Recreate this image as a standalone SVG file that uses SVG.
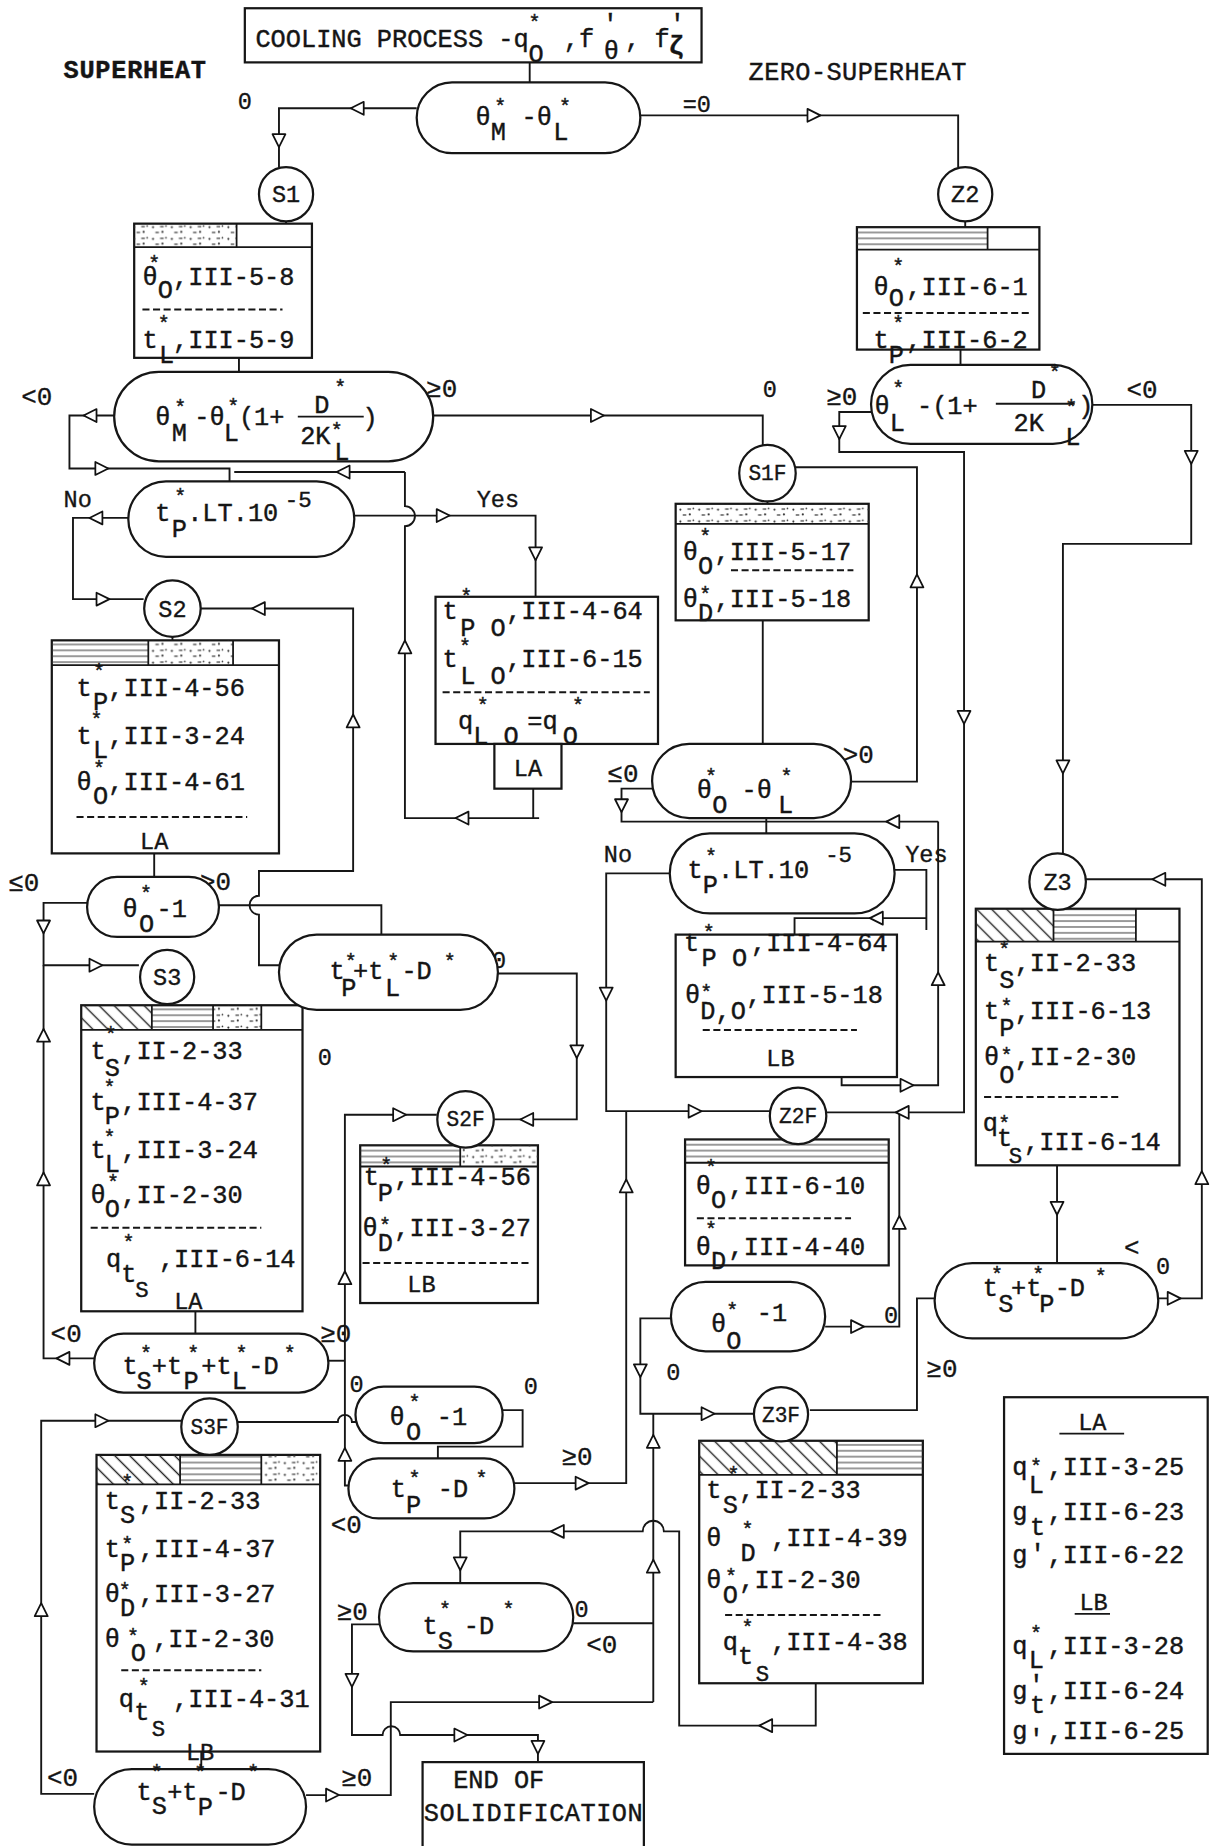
<svg xmlns="http://www.w3.org/2000/svg" width="1223" height="1846" viewBox="0 0 1223 1846">
<style>
.t{font-family:"Liberation Mono","DejaVu Sans Mono",monospace;font-size:21.5px;fill:#151515;stroke:#151515;stroke-width:0.35}
.st{font-size:17px}
.sm{font-size:19px}
.lb{font-family:"Liberation Mono","DejaVu Sans Mono",monospace;font-size:22px;fill:#151515;stroke:#151515;stroke-width:0.3}
.n{font-family:"Liberation Mono","DejaVu Sans Mono",monospace;font-size:20px;fill:#151515;stroke:#151515;stroke-width:0.3}
.c{font-family:"Liberation Mono","DejaVu Sans Mono",monospace;font-size:20px;fill:#151515;stroke:#151515;stroke-width:0.3;text-anchor:middle}
.c3{font-size:18px}
.ln{fill:none;stroke:#161616;stroke-width:1.6}
.bx{fill:#fff;stroke:#161616;stroke-width:1.9}
.ci{fill:#fff;stroke:#161616;stroke-width:1.9}
.ds{fill:none;stroke:#161616;stroke-width:1.7;stroke-dasharray:6 3}
.dv{fill:none;stroke:#161616;stroke-width:1.5}
</style>
<defs>
<pattern id="hatch" patternUnits="userSpaceOnUse" width="9" height="9" patternTransform="rotate(-45)"><line x1="4.5" y1="0" x2="4.5" y2="9" stroke="#222" stroke-width="1.2"/></pattern>
<pattern id="strat" patternUnits="userSpaceOnUse" width="40" height="5"><line x1="0" y1="2.5" x2="40" y2="2.5" stroke="#333" stroke-width="0.9"/></pattern>
<pattern id="dots" patternUnits="userSpaceOnUse" width="16" height="10"><g fill="#333"><circle cx="2" cy="3" r="0.9"/><circle cx="10" cy="7" r="0.9"/><circle cx="13" cy="2" r="0.7"/><rect x="4" y="7" width="3" height="1"/><rect x="8" y="2" width="3" height="1"/></g></pattern>
<path id="ar" d="M6,0 L-5,-5.5 L-5,5.5 Z" fill="#fff" stroke="#111" stroke-width="1.5" stroke-linejoin="round"/>
</defs>
<rect width="1223" height="1846" fill="#fff"/>
<g transform="scale(1.1771)">
<g id="connectors">
<path class="ln" d="M450,53 V70"/>
<path class="ln" d="M354,92 H237 V142"/>
<path class="ln" d="M544,98 H814 V142"/>
<path class="ln" d="M243,188 V190 M203,304 V316 M820,188 V193 M816,297 V310"/>
<path class="ln" d="M97,353 H59 V398 H195 V409"/>
<path class="ln" d="M344,401 H199"/>
<path class="ln" d="M344,401 V430 A8.5,8.5 0 0 1 344,447 V695 H458 M453,670 V695"/>
<path class="ln" d="M368,353 H648 V378"/>
<path class="ln" d="M109,440 H62 V509 H122"/>
<path class="ln" d="M301,438 H455 V507"/>
<path class="ln" d="M237,820 H220 V777 A8,8 0 0 1 220,761 V740 H300 V517 H170"/>
<path class="ln" d="M146.5,541 V544 M131,725 V745 M142,853 V854 M166,1114 V1133 M652,426 V428"/>
<path class="ln" d="M186,769 H324 V794"/>
<path class="ln" d="M74,767 H37 V820 H118"/>
<path class="ln" d="M80,1154 H37 V820"/>
<path class="ln" d="M423,827 H490 V951 H420"/>
<path class="ln" d="M297,1262 H293 V947 H371"/>
<path class="ln" d="M279,1156 H293"/>
<path class="ln" d="M202,1208 H287 A6,6 0 0 1 299,1208 H304"/>
<path class="ln" d="M427,1198 H444 V1229 H372 V1239"/>
<path class="ln" d="M437,1260 H532 V944"/>
<path class="ln" d="M80,1524 H35 V1207 H154"/>
<path class="ln" d="M171,1488 V1503"/>
<path class="ln" d="M260,1525 H332 V1446 H555"/>
<path class="ln" d="M322,1380 H299 V1474 H325 A7.5,7.5 0 0 1 340,1474 H457 V1497"/>
<path class="ln" d="M487,1379 H555 M555,1446 V1201"/>
<path class="ln" d="M693,1430 V1466 H577 V1301 H564 A9,9 0 0 0 546,1301 H391 V1345"/>
<path class="ln" d="M570,1120 H544 V1201 H640"/>
<path class="ln" d="M701,1127 H764 V945"/>
<path class="ln" d="M794,1103 H779 V1198 H688"/>
<path class="ln" d="M922,747 H1021 V1103 H984"/>
<path class="ln" d="M898,990 V1073"/>
<path class="ln" d="M928,344 H1012 V462 H903 V726"/>
<path class="ln" d="M740,350 H713 V384 H819 V945 H702"/>
<path class="ln" d="M676,397 H779 V664 H722"/>
<path class="ln" d="M648,527 V632"/>
<path class="ln" d="M554,670 H528 V698 H797"/>
<path class="ln" d="M651,695 V708"/>
<path class="ln" d="M797,698 V922 H715 V915"/>
<path class="ln" d="M569,742 H515 V944 H654"/>
<path class="ln" d="M760,739 H787 V790 M787,780 H675 V794"/>
<use href="#ar" transform="translate(304,92) rotate(180)"/>
<use href="#ar" transform="translate(237,119) rotate(90)"/>
<use href="#ar" transform="translate(691,98)"/>
<use href="#ar" transform="translate(77,353) rotate(180)"/>
<use href="#ar" transform="translate(86,398)"/>
<use href="#ar" transform="translate(292,401) rotate(180)"/>
<use href="#ar" transform="translate(344,550) rotate(-90)"/>
<use href="#ar" transform="translate(393,695) rotate(180)"/>
<use href="#ar" transform="translate(507,353)"/>
<use href="#ar" transform="translate(82,440) rotate(180)"/>
<use href="#ar" transform="translate(87,509)"/>
<use href="#ar" transform="translate(376,438)"/>
<use href="#ar" transform="translate(455,470) rotate(90)"/>
<use href="#ar" transform="translate(300,613) rotate(-90)"/>
<use href="#ar" transform="translate(220,517) rotate(180)"/>
<use href="#ar" transform="translate(37,787) rotate(90)"/>
<use href="#ar" transform="translate(81,820)"/>
<use href="#ar" transform="translate(54,1154) rotate(180)"/>
<use href="#ar" transform="translate(37,1002) rotate(-90)"/>
<use href="#ar" transform="translate(37,880) rotate(-90)"/>
<use href="#ar" transform="translate(490,893) rotate(90)"/>
<use href="#ar" transform="translate(448,951) rotate(180)"/>
<use href="#ar" transform="translate(293,1236) rotate(-90)"/>
<use href="#ar" transform="translate(293,1086) rotate(-90)"/>
<use href="#ar" transform="translate(339,947)"/>
<use href="#ar" transform="translate(494,1260)"/>
<use href="#ar" transform="translate(532,1008) rotate(-90)"/>
<use href="#ar" transform="translate(35,1368) rotate(-90)"/>
<use href="#ar" transform="translate(86,1207)"/>
<use href="#ar" transform="translate(282,1525)"/>
<use href="#ar" transform="translate(463,1446)"/>
<use href="#ar" transform="translate(299,1427) rotate(90)"/>
<use href="#ar" transform="translate(391,1474)"/>
<use href="#ar" transform="translate(457,1484) rotate(90)"/>
<use href="#ar" transform="translate(555,1331) rotate(-90)"/>
<use href="#ar" transform="translate(555,1225) rotate(-90)"/>
<use href="#ar" transform="translate(651,1466) rotate(180)"/>
<use href="#ar" transform="translate(474,1301) rotate(180)"/>
<use href="#ar" transform="translate(391,1328) rotate(90)"/>
<use href="#ar" transform="translate(544,1164) rotate(90)"/>
<use href="#ar" transform="translate(601,1201)"/>
<use href="#ar" transform="translate(728,1127)"/>
<use href="#ar" transform="translate(764,1039) rotate(-90)"/>
<use href="#ar" transform="translate(985,747) rotate(180)"/>
<use href="#ar" transform="translate(1021,1001) rotate(-90)"/>
<use href="#ar" transform="translate(997,1103)"/>
<use href="#ar" transform="translate(898,1026) rotate(90)"/>
<use href="#ar" transform="translate(1012,388) rotate(90)"/>
<use href="#ar" transform="translate(903,651) rotate(90)"/>
<use href="#ar" transform="translate(713,367) rotate(90)"/>
<use href="#ar" transform="translate(819,609) rotate(90)"/>
<use href="#ar" transform="translate(767,945) rotate(180)"/>
<use href="#ar" transform="translate(779,494) rotate(-90)"/>
<use href="#ar" transform="translate(528,684) rotate(90)"/>
<use href="#ar" transform="translate(759,698) rotate(180)"/>
<use href="#ar" transform="translate(797,832) rotate(-90)"/>
<use href="#ar" transform="translate(770,922)"/>
<use href="#ar" transform="translate(515,844) rotate(90)"/>
<use href="#ar" transform="translate(590,944)"/>
<use href="#ar" transform="translate(745,780) rotate(180)"/>
</g>

<g id="labels">
<text class="t" x="54" y="66" font-weight="bold" textLength="121">SUPERHEAT</text>
<text class="t" x="636" y="68" textLength="185">ZERO-SUPERHEAT</text>
<text class="n" x="202" y="93">0</text>
<text class="n" x="580" y="95">=0</text>
<text class="lb" x="18" y="344">&lt;0</text>
<text class="lb" x="362" y="337">≥0</text>
<text class="n" x="648" y="337">0</text>
<text class="lb" x="702" y="344">≥0</text>
<text class="lb" x="957" y="338">&lt;0</text>
<text class="n" x="54" y="431">No</text>
<text class="n" x="405" y="431">Yes</text>
<text class="lb" x="516" y="664">≤0</text>
<text class="lb" x="716" y="648">&gt;0</text>
<text class="n" x="513" y="732">No</text>
<text class="n" x="769" y="732">Yes</text>
<text class="lb" x="7" y="757">≤0</text>
<text class="lb" x="170" y="756">&gt;0</text>
<text class="n" x="418" y="822">0</text>
<text class="n" x="270" y="905">0</text>
<text class="lb"><tspan x="955" y="1067">&lt;</tspan><tspan class="n" x="982" y="1082">0</tspan></text>
<text class="n" x="751" y="1124">0</text>
<text class="n" x="566" y="1172">0</text>
<text class="lb" x="787" y="1170">≥0</text>
<text class="lb" x="43" y="1140">&lt;0</text>
<text class="lb" x="272" y="1140">≥0</text>
<text class="n" x="297" y="1183">0</text>
<text class="n" x="445" y="1184">0</text>
<text class="lb" x="281" y="1302">&lt;0</text>
<text class="lb" x="477" y="1245">≥0</text>
<text class="lb" x="286" y="1376">≥0</text>
<text class="n" x="488" y="1374">0</text>
<text class="lb" x="498" y="1404">&lt;0</text>
<text class="lb" x="40" y="1517">&lt;0</text>
<text class="lb" x="290" y="1517">≥0</text>
</g>

<g id="start">
<rect class="bx" x="208" y="7" width="388" height="46"/>
<text class="t"><tspan x="217" y="40">COOLING PROCESS -q</tspan><tspan class="st" x="449" y="25">*</tspan><tspan x="449" y="53">O</tspan><tspan x="479" y="40">,f</tspan><tspan x="512" y="27">'</tspan><tspan x="513" y="50">θ</tspan><tspan x="531" y="40">,</tspan><tspan x="556" y="40">f</tspan><tspan x="569" y="27">'</tspan><tspan x="568" y="46" font-weight="bold">ζ</tspan></text>
</g>

<g id="d-superheat">
<rect class="bx" x="354" y="70" width="190" height="60" rx="30"/>
<text class="t"><tspan x="404" y="106">θ</tspan><tspan class="st" x="420" y="96">*</tspan><tspan x="417" y="119">M</tspan><tspan x="443" y="106">-θ</tspan><tspan class="st" x="475" y="96">*</tspan><tspan x="470" y="119">L</tspan></text>
</g>

<g id="S1">
<rect class="bx" x="114" y="190" width="151" height="114"/>
<rect x="114" y="190" width="87" height="20" fill="url(#dots)"/>
<path class="dv" d="M201,190 V210 M114,210 H265"/>
<text class="t"><tspan x="121" y="242">θ</tspan><tspan class="st" x="126" y="229">*</tspan><tspan x="134" y="253">O</tspan><tspan x="147" y="242">,III-5-8</tspan></text>
<path class="ds" d="M121,263 H240"/>
<text class="t"><tspan x="121" y="296">t</tspan><tspan class="st" x="134" y="280">*</tspan><tspan x="135" y="308">L</tspan><tspan x="147" y="296">,III-5-9</tspan></text>
<circle class="ci" cx="243" cy="165" r="23"/>
<text class="c" x="243" y="172">S1</text>
</g>

<g id="d-s1">
<rect class="bx" x="97" y="316" width="271" height="76" rx="38"/>
<text class="t"><tspan x="132" y="361">θ</tspan><tspan class="st" x="148" y="352">*</tspan><tspan x="146" y="375">M</tspan><tspan x="165" y="361">-θ</tspan><tspan class="st" x="193" y="351">*</tspan><tspan x="190" y="375">L</tspan><tspan x="203" y="361">(1+</tspan><tspan x="267" y="351">D</tspan><tspan class="st" x="284" y="335">*</tspan><tspan x="255" y="377">2K</tspan><tspan class="st" x="281" y="371">*</tspan><tspan x="284" y="391">L</tspan><tspan x="308" y="362">)</tspan></text>
<path class="dv" d="M253,354 H309"/>
</g>

<g id="d-tp1">
<rect class="bx" x="109" y="409" width="192" height="64" rx="32"/>
<text class="t"><tspan x="132" y="443">t</tspan><tspan class="st" x="148" y="427">*</tspan><tspan x="146" y="456">P</tspan><tspan x="159" y="443">.LT.10</tspan><tspan class="sm" x="242" y="431">-5</tspan></text>
</g>

<g id="S2">
<rect class="bx" x="44" y="544" width="193" height="181"/>
<rect x="44" y="544" width="82" height="21" fill="url(#strat)"/>
<rect x="126" y="544" width="72" height="21" fill="url(#dots)"/>
<path class="dv" d="M126,544 V565 M198,544 V565 M44,565 H237"/>
<text class="t"><tspan x="65" y="591">t</tspan><tspan class="st" x="79" y="576">*</tspan><tspan x="79" y="603">P</tspan><tspan x="92" y="591">,III-4-56</tspan></text>
<text class="t"><tspan x="65" y="632">t</tspan><tspan class="st" x="77" y="617">*</tspan><tspan x="79" y="644">L</tspan><tspan x="92" y="632">,III-3-24</tspan></text>
<text class="t"><tspan x="65" y="671">θ</tspan><tspan class="st" x="79" y="658">*</tspan><tspan x="79" y="683">O</tspan><tspan x="92" y="671">,III-4-61</tspan></text>
<path class="ds" d="M65,694 H210"/>
<text class="n" x="119" y="721">LA</text>
<circle class="ci" cx="146.5" cy="517" r="24"/>
<text class="c" x="146.5" y="524">S2</text>
</g>

<g id="tp0-LA">
<rect class="bx" x="370" y="507" width="189" height="125"/>
<text class="t"><tspan x="376" y="526">t</tspan><tspan class="st" x="391" y="512">*</tspan><tspan x="391" y="540">P O</tspan><tspan x="430" y="526">,III-4-64</tspan></text>
<text class="t"><tspan x="376" y="567">t</tspan><tspan class="st" x="390" y="555">*</tspan><tspan x="391" y="581">L O</tspan><tspan x="430" y="567">,III-6-15</tspan></text>
<path class="ds" d="M376,588 H552"/>
<text class="t"><tspan x="389" y="619">q</tspan><tspan class="st" x="405" y="605">*</tspan><tspan x="402" y="632">L O</tspan><tspan x="448" y="619">=q</tspan><tspan class="st" x="486" y="605">*</tspan><tspan x="478" y="632">O</tspan></text>
<rect class="bx" x="420" y="632" width="57" height="38"/>
<text class="c" x="448.5" y="659">LA</text>
</g>

<g id="S1F">
<rect class="bx" x="574" y="428" width="164" height="99"/>
<rect x="574" y="428" width="164" height="17" fill="url(#dots)"/>
<path class="dv" d="M574,445 H738"/>
<text class="t"><tspan x="580" y="476">θ</tspan><tspan class="st" x="594" y="461">*</tspan><tspan x="593" y="488">O</tspan><tspan x="607" y="476">,III-5-17</tspan></text>
<path class="ds" d="M621,484.5 H725"/>
<text class="t"><tspan x="580" y="516">θ</tspan><tspan class="st" x="594" y="511">*</tspan><tspan x="593" y="528">D</tspan><tspan x="607" y="516">,III-5-18</tspan></text>
<circle class="ci" cx="652" cy="402" r="24"/>
<text class="c c3" x="652" y="408">S1F</text>
</g>

<g id="d-s1f">
<rect class="bx" x="554" y="632" width="169" height="63" rx="31.5"/>
<text class="t"><tspan x="592" y="678">θ</tspan><tspan class="st" x="599" y="665">*</tspan><tspan x="605" y="691">O</tspan><tspan x="630" y="678">-θ</tspan><tspan class="st" x="663" y="665">*</tspan><tspan x="661" y="691">L</tspan></text>
</g>

<g id="d-tp2">
<rect class="bx" x="569" y="708" width="191" height="68" rx="34"/>
<text class="t"><tspan x="584" y="746">t</tspan><tspan class="st" x="599" y="733">*</tspan><tspan x="597" y="759">P</tspan><tspan x="610" y="746">.LT.10</tspan><tspan class="sm" x="701" y="732">-5</tspan></text>
</g>

<g id="tp0-LB">
<rect class="bx" x="574" y="794" width="188" height="121"/>
<text class="t"><tspan x="581" y="808">t</tspan><tspan class="st" x="597" y="798">*</tspan><tspan x="596" y="821">P O</tspan><tspan x="638" y="808">,III-4-64</tspan></text>
<text class="t"><tspan x="582" y="852">θ</tspan><tspan class="st" x="595" y="849">*</tspan><tspan x="595" y="866">D,O</tspan><tspan x="634" y="852">,III-5-18</tspan></text>
<path class="ds" d="M597,875 H728"/>
<text class="c" x="663" y="906">LB</text>
</g>

<g id="Z2">
<rect class="bx" x="728" y="193" width="155" height="104"/>
<rect x="728" y="193" width="111" height="19" fill="url(#strat)"/>
<path class="dv" d="M839,193 V212 M728,212 H883"/>
<text class="t"><tspan x="742" y="251">θ</tspan><tspan class="st" x="758" y="232">*</tspan><tspan x="755" y="260">O</tspan><tspan x="770" y="251">,III-6-1</tspan></text>
<path class="ds" d="M733,266 H874"/>
<text class="t"><tspan x="742" y="296">t</tspan><tspan class="st" x="758" y="280">*</tspan><tspan x="755" y="308">P</tspan><tspan x="770" y="296">,III-6-2</tspan></text>
<circle class="ci" cx="820" cy="165" r="23"/>
<text class="c" x="820" y="172">Z2</text>
</g>

<g id="d-z2">
<rect class="bx" x="740" y="310" width="188" height="67" rx="33.5"/>
<text class="t"><tspan x="743" y="352">θ</tspan><tspan class="st" x="758" y="336">*</tspan><tspan x="756" y="366">L</tspan><tspan x="779" y="352">-(1+</tspan><tspan x="876" y="338">D</tspan><tspan class="st" x="891" y="322">*</tspan><tspan x="861" y="366">2K</tspan><tspan class="st" x="905" y="352">*</tspan><tspan x="905" y="378">L</tspan><tspan x="916" y="352">)</tspan></text>
<path class="dv" d="M846,343 H913"/>
</g>

<g id="Z2F">
<rect class="bx" x="582" y="968" width="173" height="107"/>
<rect x="582" y="968" width="173" height="20" fill="url(#strat)"/>
<path class="dv" d="M582,988 H755"/>
<text class="t"><tspan x="591" y="1014">θ</tspan><tspan class="st" x="599" y="997">*</tspan><tspan x="604" y="1026">O</tspan><tspan x="619" y="1014">,III-6-10</tspan></text>
<path class="ds" d="M592,1035 H723"/>
<text class="t"><tspan x="591" y="1066">θ</tspan><tspan class="st" x="599" y="1050">*</tspan><tspan x="604" y="1078">D</tspan><tspan x="619" y="1066">,III-4-40</tspan></text>
<circle class="ci" cx="678" cy="948" r="24"/>
<text class="c c3" x="678" y="954">Z2F</text>
</g>

<g id="Z3">
<rect class="bx" x="829" y="772" width="173" height="218"/>
<rect x="829" y="772" width="66" height="28" fill="url(#hatch)"/>
<rect x="895" y="772" width="70" height="28" fill="url(#strat)"/>
<path class="dv" d="M895,772 V800 M965,772 V800 M829,800 H1002"/>
<text class="t"><tspan x="836" y="825">t</tspan><tspan class="st" x="848" y="812">*</tspan><tspan x="849" y="839">S</tspan><tspan x="862" y="825">,II-2-33</tspan></text>
<text class="t"><tspan x="836" y="866">t</tspan><tspan class="st" x="850" y="861">*</tspan><tspan x="849" y="880">P</tspan><tspan x="862" y="866">,III-6-13</tspan></text>
<text class="t"><tspan x="836" y="905">θ</tspan><tspan class="st" x="850" y="902">*</tspan><tspan x="849" y="920">O</tspan><tspan x="862" y="905">,II-2-30</tspan></text>
<path class="ds" d="M836,932 H952"/>
<text class="t"><tspan x="835" y="961">q</tspan><tspan class="st" x="848" y="960">*</tspan><tspan x="847" y="974">t</tspan><tspan class="sm" x="857" y="988">S</tspan><tspan x="870" y="977">,III-6-14</tspan></text>
<circle class="ci" cx="898.5" cy="749" r="24"/>
<text class="c" x="898.5" y="756">Z3</text>
</g>

<g id="d-z3">
<rect class="bx" x="794" y="1073" width="190" height="64" rx="32"/>
<text class="t"><tspan x="835" y="1101">t</tspan><tspan class="st" x="842" y="1088">*</tspan><tspan x="848" y="1115">S</tspan><tspan x="859" y="1101">+t</tspan><tspan class="st" x="877" y="1088">*</tspan><tspan x="883" y="1115">P</tspan><tspan x="896" y="1101">-D</tspan><tspan class="st" x="930" y="1090">*</tspan></text>
</g>

<g id="d-z2f">
<rect class="bx" x="570" y="1089" width="131" height="59" rx="29.5"/>
<text class="t"><tspan x="604" y="1132">θ</tspan><tspan class="st" x="617" y="1119">*</tspan><tspan x="617" y="1146">O</tspan><tspan x="643" y="1122">-1</tspan></text>
</g>

<g id="Z3F">
<rect class="bx" x="594" y="1224" width="190" height="206"/>
<rect x="594" y="1224" width="117" height="29" fill="url(#hatch)"/>
<rect x="711" y="1224" width="73" height="29" fill="url(#strat)"/>
<path class="dv" d="M711,1224 V1253 M594,1253 H784"/>
<text class="t"><tspan x="600" y="1273">t</tspan><tspan class="st" x="618" y="1258">*</tspan><tspan x="614" y="1285">S</tspan><tspan x="628" y="1273">,II-2-33</tspan></text>
<text class="t"><tspan x="600" y="1313">θ</tspan><tspan class="st" x="630" y="1305">*</tspan><tspan x="629" y="1326">D</tspan><tspan x="655" y="1313">,III-4-39</tspan></text>
<text class="t"><tspan x="600" y="1349">θ</tspan><tspan class="st" x="616" y="1345">*</tspan><tspan x="614" y="1362">O</tspan><tspan x="628" y="1349">,II-2-30</tspan></text>
<path class="ds" d="M616,1372 H748"/>
<text class="t"><tspan x="614" y="1402">q</tspan><tspan class="st" x="630" y="1388">*</tspan><tspan x="627" y="1414">t</tspan><tspan class="sm" x="642" y="1428">S</tspan><tspan x="655" y="1402">,III-4-38</tspan></text>
<circle class="ci" cx="663.5" cy="1201.5" r="23"/>
<text class="c c3" x="663.5" y="1208">Z3F</text>
</g>

<g id="d-ts">
<rect class="bx" x="322" y="1345" width="165" height="58" rx="29"/>
<text class="t"><tspan x="359" y="1388">t</tspan><tspan class="st" x="373" y="1373">*</tspan><tspan x="372" y="1401">S</tspan><tspan x="394" y="1388">-D</tspan><tspan class="st" x="427" y="1373">*</tspan></text>
</g>

<g id="end">
<rect class="bx" x="359" y="1497" width="188" height="90"/>
<text class="t" x="385" y="1519">END OF</text>
<text class="t" x="360" y="1547" textLength="186">SOLIDIFICATION</text>
</g>

<g id="d-s3f">
<rect class="bx" x="80" y="1503" width="180" height="64" rx="32"/>
<text class="t"><tspan x="116" y="1529">t</tspan><tspan class="st" x="128" y="1511">*</tspan><tspan x="129" y="1541">S</tspan><tspan x="142" y="1529">+t</tspan><tspan class="st" x="165" y="1511">*</tspan><tspan x="168" y="1542">P</tspan><tspan x="183" y="1529">-D</tspan><tspan class="st" x="210" y="1511">*</tspan></text>
</g>

<g id="S3F">
<rect class="bx" x="82" y="1236" width="190" height="252"/>
<rect x="82" y="1236" width="71" height="25" fill="url(#hatch)"/>
<rect x="153" y="1236" width="69" height="25" fill="url(#strat)"/>
<rect x="222" y="1236" width="50" height="25" fill="url(#dots)"/>
<path class="dv" d="M153,1236 V1261 M222,1236 V1261 M82,1261 H272"/>
<text class="t"><tspan x="89" y="1282">t</tspan><tspan class="st" x="103" y="1265">*</tspan><tspan x="102" y="1294">S</tspan><tspan x="118" y="1282">,II-2-33</tspan></text>
<text class="t"><tspan x="89" y="1323">t</tspan><tspan class="st" x="103" y="1318">*</tspan><tspan x="102" y="1335">P</tspan><tspan x="118" y="1323">,III-4-37</tspan></text>
<text class="t"><tspan x="89" y="1361">θ</tspan><tspan class="st" x="101" y="1357">*</tspan><tspan x="102" y="1373">D</tspan><tspan x="118" y="1361">,III-3-27</tspan></text>
<text class="t"><tspan x="89" y="1399">θ</tspan><tspan class="st" x="108" y="1396">*</tspan><tspan x="111" y="1411">O</tspan><tspan x="130" y="1399">,II-2-30</tspan></text>
<path class="ds" d="M103,1419 H222"/>
<text class="t"><tspan x="101" y="1450">q</tspan><tspan class="st" x="117" y="1438">*</tspan><tspan x="114" y="1461">t</tspan><tspan class="sm" x="129" y="1475">S</tspan><tspan x="147" y="1450">,III-4-31</tspan></text>
<text class="n" x="158" y="1495">LB</text>
<circle class="ci" cx="178" cy="1212" r="24"/>
<text class="c c3" x="178" y="1218">S3F</text>
</g>

<g id="S3">
<rect class="bx" x="69" y="854" width="188" height="260"/>
<rect x="69" y="854" width="60" height="21" fill="url(#hatch)"/>
<rect x="129" y="854" width="52" height="21" fill="url(#strat)"/>
<rect x="181" y="854" width="41" height="21" fill="url(#dots)"/>
<path class="dv" d="M129,854 V875 M181,854 V875 M222,854 V875 M69,875 H257"/>
<text class="t"><tspan x="77" y="900">t</tspan><tspan class="st" x="89" y="884">*</tspan><tspan x="89" y="914">S</tspan><tspan x="103" y="900">,II-2-33</tspan></text>
<text class="t"><tspan x="77" y="943">t</tspan><tspan class="st" x="88" y="929">*</tspan><tspan x="89" y="955">P</tspan><tspan x="103" y="943">,III-4-37</tspan></text>
<text class="t"><tspan x="77" y="984">t</tspan><tspan class="st" x="88" y="972">*</tspan><tspan x="89" y="996">L</tspan><tspan x="103" y="984">,III-3-24</tspan></text>
<text class="t"><tspan x="77" y="1022">θ</tspan><tspan class="st" x="91" y="1010">*</tspan><tspan x="89" y="1034">O</tspan><tspan x="103" y="1022">,II-2-30</tspan></text>
<path class="ds" d="M77,1043 H222"/>
<text class="t"><tspan x="90" y="1076">q</tspan><tspan class="st" x="104" y="1061">*</tspan><tspan x="103" y="1089">t</tspan><tspan class="sm" x="115" y="1102">S</tspan><tspan x="135" y="1076">,III-6-14</tspan></text>
<text class="n" x="148" y="1112">LA</text>
<circle class="ci" cx="142" cy="830" r="23"/>
<text class="c" x="142" y="837">S3</text>
</g>

<g id="d-s2">
<rect class="bx" x="74" y="745" width="112" height="51" rx="25.5"/>
<text class="t"><tspan x="104" y="779">θ</tspan><tspan class="st" x="119" y="765">*</tspan><tspan x="118" y="792">O</tspan><tspan x="133" y="779">-1</tspan></text>
</g>

<g id="d-tptl">
<rect class="bx" x="237" y="794" width="186" height="64" rx="32"/>
<text class="t"><tspan x="280" y="832">t</tspan><tspan class="st" x="293" y="822">*</tspan><tspan x="290" y="846">P</tspan><tspan x="300" y="832">+t</tspan><tspan class="st" x="329" y="822">*</tspan><tspan x="327" y="846">L</tspan><tspan x="341" y="832">-D</tspan><tspan class="st" x="377" y="822">*</tspan></text>
</g>

<g id="d-s3">
<rect class="bx" x="80" y="1133" width="199" height="50" rx="25"/>
<text class="t"><tspan x="104" y="1167">t</tspan><tspan class="st" x="119" y="1155">*</tspan><tspan x="116" y="1180">S</tspan><tspan x="129" y="1167">+t</tspan><tspan class="st" x="159" y="1155">*</tspan><tspan x="156" y="1180">P</tspan><tspan x="171" y="1167">+t</tspan><tspan class="st" x="200" y="1155">*</tspan><tspan x="197" y="1180">L</tspan><tspan x="211" y="1167">-D</tspan><tspan class="st" x="241" y="1155">*</tspan></text>
</g>

<g id="S2F">
<rect class="bx" x="306" y="973" width="151" height="134"/>
<rect x="306" y="973" width="85" height="18" fill="url(#strat)"/>
<rect x="391" y="973" width="66" height="18" fill="url(#dots)"/>
<path class="dv" d="M391,973 V991 M306,991 H457"/>
<text class="t"><tspan x="309" y="1007">t</tspan><tspan class="st" x="323" y="996">*</tspan><tspan x="321" y="1020">P</tspan><tspan x="335" y="1007">,III-4-56</tspan></text>
<text class="t"><tspan x="308" y="1050">θ</tspan><tspan class="st" x="322" y="1047">*</tspan><tspan x="321" y="1063">D</tspan><tspan x="335" y="1050">,III-3-27</tspan></text>
<path class="ds" d="M308,1073 H452"/>
<text class="n" x="346" y="1098">LB</text>
<circle class="ci" cx="395.5" cy="951" r="24"/>
<text class="c c3" x="395.5" y="957">S2F</text>
</g>

<g id="d-s2f">
<rect class="bx" x="302" y="1178" width="125" height="48" rx="24"/>
<text class="t"><tspan x="331" y="1211">θ</tspan><tspan class="st" x="347" y="1197">*</tspan><tspan x="345" y="1223">O</tspan><tspan x="371" y="1211">-1</tspan></text>
</g>

<g id="d-tp">
<rect class="bx" x="296" y="1239" width="141" height="51" rx="25.5"/>
<text class="t"><tspan x="332" y="1272">t</tspan><tspan class="st" x="347" y="1262">*</tspan><tspan x="345" y="1285">P</tspan><tspan x="372" y="1272">-D</tspan><tspan class="st" x="404" y="1262">*</tspan></text>
</g>

<g id="legend">
<rect class="bx" x="853" y="1187" width="173" height="303"/>
<text class="c" x="928" y="1215">LA</text>
<path class="dv" d="M900,1218 H955"/>
<text class="t"><tspan x="860" y="1253">q</tspan><tspan class="st" x="875" y="1251">*</tspan><tspan x="874" y="1268">L</tspan><tspan x="890" y="1253">,III-3-25</tspan></text>
<text class="t"><tspan x="860" y="1291">g</tspan><tspan x="875" y="1304">t</tspan><tspan x="890" y="1291">,III-6-23</tspan></text>
<text class="t"><tspan x="860" y="1328">g</tspan><tspan x="875" y="1327">'</tspan><tspan x="890" y="1328">,III-6-22</tspan></text>
<text class="c" x="929" y="1368">LB</text>
<path class="dv" d="M913,1371 H943"/>
<text class="t"><tspan x="860" y="1405">q</tspan><tspan class="st" x="875" y="1393">*</tspan><tspan x="874" y="1417">L</tspan><tspan x="890" y="1405">,III-3-28</tspan></text>
<text class="t"><tspan x="860" y="1443">g</tspan><tspan x="874" y="1438">'</tspan><tspan x="875" y="1455">t</tspan><tspan x="890" y="1443">,III-6-24</tspan></text>
<text class="t"><tspan x="860" y="1477">g</tspan><tspan x="874" y="1484">'</tspan><tspan x="890" y="1477">,III-6-25</tspan></text>
</g>
</g>
</svg>
